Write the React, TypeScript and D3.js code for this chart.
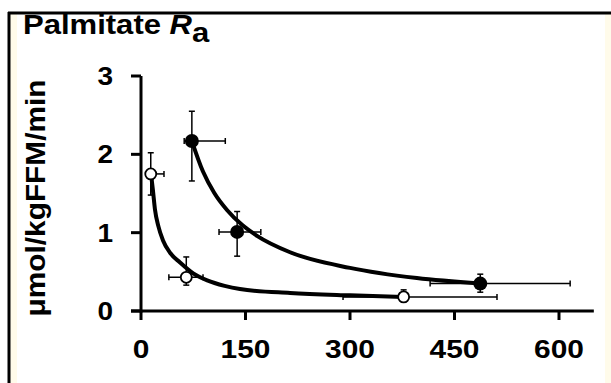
import React from "react";
import * as d3 from "d3";

const xTicks = [0, 150, 300, 450, 600];
const yTicks = [0, 1, 2, 3];

// Open circles
const openX = [14, 65, 377];
const openY = [1.75, 0.43, 0.18];
const openXLo = [10, 40, 290];
const openXHi = [33, 89, 511];
const openYLo = [1.48, 0.33, 0.12];
const openYHi = [2.02, 0.69, 0.27];

// Filled circles
const filledX = [73, 138, 487];
const filledY = [2.17, 1.01, 0.35];
const filledXLo = [62, 112, 415];
const filledXHi = [121, 172, 616];
const filledYLo = [1.66, 0.7, 0.24];
const filledYHi = [2.55, 1.27, 0.47];

// Fitted curves
const openCurveX = [14.4, 17, 20, 25, 31.6, 42, 56, 75, 95, 120, 142, 214, 300, 377];
const openCurveY = [1.75, 1.55, 1.3, 1.08, 0.9, 0.74, 0.62, 0.48, 0.39, 0.32, 0.28, 0.23, 0.2, 0.18];
const filledCurveX = [73, 89, 105, 123.4, 145, 166.5, 214, 300, 396, 487];
const filledCurveY = [2.17, 1.78, 1.51, 1.29, 1.1, 0.96, 0.75, 0.55, 0.42, 0.35];

export default function App() {
  const x = d3.scaleLinear().domain([0, 600]).range([141, 559]);
  const y = d3.scaleLinear().domain([0, 3]).range([311, 76]);
  const line = d3
    .line<[number, number]>()
    .x((d) => x(d[0]))
    .y((d) => y(d[1]))
    .curve(d3.curveMonotoneX);
  const openPath = line(openCurveX.map((v, i) => [v, openCurveY[i]] as [number, number])) || "";
  const filledPath = line(filledCurveX.map((v, i) => [v, filledCurveY[i]] as [number, number])) || "";

  const font = "'Liberation Sans', Arial, sans-serif";
  const cap = 3;

  const errBars = (
    xs: number[], ys: number[], xlo: number[], xhi: number[], ylo: number[], yhi: number[], key: string
  ) =>
    xs.map((xv, i) => {
      const cx = x(xv), cy = y(ys[i]);
      const x0 = x(xlo[i]), x1 = x(xhi[i]), y0 = y(ylo[i]), y1 = y(yhi[i]);
      return (
        <g key={key + i} stroke="#000" strokeWidth={1.5} fill="none">
          <line x1={x0} x2={x1} y1={cy} y2={cy} />
          <line x1={x0} x2={x0} y1={cy - cap} y2={cy + cap} />
          <line x1={x1} x2={x1} y1={cy - cap} y2={cy + cap} />
          <line x1={cx} x2={cx} y1={y0} y2={y1} />
          <line x1={cx - cap} x2={cx + cap} y1={y0} y2={y0} />
          <line x1={cx - cap} x2={cx + cap} y1={y1} y2={y1} />
        </g>
      );
    });

  return (
    <svg
      width={611}
      height={383}
      style={{ position: "absolute", left: 0, top: 0, background: "#fff" }}
    >
      <rect x={10} y={14} width={7} height={369} fill="#fffbea" />
      <rect x={605} y={14} width={6} height={369} fill="#fffbea" />
      <line x1={8} x2={611} y1={13} y2={13} stroke="#000" strokeWidth={3} />
      <line x1={9} x2={9} y1={12} y2={383} stroke="#000" strokeWidth={3} />

      {/* Title */}
      <text
        transform="translate(23,34) scale(1.15,1)"
        fontFamily={font}
        fontWeight="bold"
        fontSize={27}
        fill="#000"
      >
        Palmitate{" "}
        <tspan fontStyle="italic">R</tspan>
        <tspan dy={8}>a</tspan>
      </text>

      {/* Y label */}
      <text
        transform="translate(45,198) rotate(-90)"
        textAnchor="middle"
        fontFamily={font}
        fontWeight="bold"
        fontSize={27}
        textLength={237}
        lengthAdjust="spacingAndGlyphs"
        fill="#000"
      >
        μmol/kgFFM/min
      </text>

      {/* Axes */}
      <line x1={x(0)} x2={x(0)} y1={y(3)} y2={y(0) + 1.5} stroke="#000" strokeWidth={3} />
      <line x1={131} x2={x(650)} y1={y(0)} y2={y(0)} stroke="#000" strokeWidth={3} />
      {yTicks.map((t) => (
        <g key={"yt" + t}>
          <line x1={131} x2={x(0)} y1={y(t)} y2={y(t)} stroke="#000" strokeWidth={3} />
          <text
            transform={`translate(113,${y(t) + 9}) scale(1.12,1)`}
            textAnchor="end"
            fontFamily={font}
            fontWeight="bold"
            fontSize={25}
            fill="#000"
          >
            {t}
          </text>
        </g>
      ))}
      {xTicks.map((t) => (
        <g key={"xt" + t}>
          <line x1={x(t)} x2={x(t)} y1={y(0)} y2={y(0) + 9} stroke="#000" strokeWidth={3} />
          <text
            transform={`translate(${x(t)},358) scale(1.15,1)`}
            textAnchor="middle"
            fontFamily={font}
            fontWeight="bold"
            fontSize={26}
            fill="#000"
          >
            {t}
          </text>
        </g>
      ))}

      {/* Error bars */}
      {errBars(openX, openY, openXLo, openXHi, openYLo, openYHi, "o")}
      {errBars(filledX, filledY, filledXLo, filledXHi, filledYLo, filledYHi, "f")}

      {/* Curves */}
      <path d={openPath} fill="none" stroke="#000" strokeWidth={4} />
      <path d={filledPath} fill="none" stroke="#000" strokeWidth={4} />

      {/* Points */}
      {openX.map((v, i) => (
        <circle key={"oc" + i} cx={x(v)} cy={y(openY[i])} r={5.5} fill="#fff" stroke="#000" strokeWidth={1.8} />
      ))}
      {filledX.map((v, i) => (
        <circle key={"fc" + i} cx={x(v)} cy={y(filledY[i])} r={7} fill="#000" />
      ))}
    </svg>
  );
}
